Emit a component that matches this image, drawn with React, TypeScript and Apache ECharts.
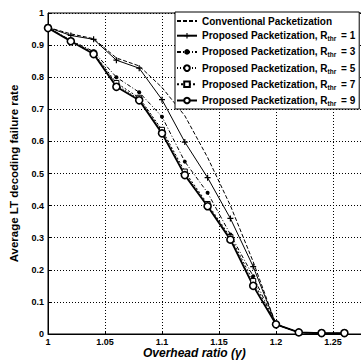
import React, { useEffect, useRef } from "react";
import * as echarts from "echarts";

const xValues = [1, 1.02, 1.04, 1.06, 1.08, 1.1, 1.12, 1.14, 1.16, 1.18, 1.2, 1.22, 1.24, 1.26];
const conventional = [0.955, 0.935, 0.92, 0.86, 0.835, 0.768, 0.68, 0.55, 0.4, 0.225, 0.03, 0.005, 0.002, 0.001];
const rthr1 = [0.955, 0.93, 0.918, 0.853, 0.828, 0.73, 0.598, 0.487, 0.36, 0.21, 0.03, 0.005, 0.002, 0.002];
const rthr3 = [0.955, 0.915, 0.88, 0.8, 0.753, 0.677, 0.537, 0.44, 0.31, 0.18, 0.03, 0.005, 0.002, 0.002];
const rthr5 = [0.955, 0.913, 0.876, 0.776, 0.732, 0.632, 0.5, 0.4, 0.296, 0.155, 0.03, 0.005, 0.002, 0.002];
const rthr7 = [0.955, 0.913, 0.876, 0.782, 0.736, 0.636, 0.506, 0.405, 0.302, 0.165, 0.03, 0.005, 0.002, 0.002];
const rthr9 = [0.953, 0.912, 0.872, 0.77, 0.728, 0.625, 0.495, 0.398, 0.294, 0.15, 0.03, 0.005, 0.003, 0.003];

const seriesNames = [
  "Conventional Packetization",
  "Proposed Packetization, R_1",
  "Proposed Packetization, R_3",
  "Proposed Packetization, R_5",
  "Proposed Packetization, R_7",
  "Proposed Packetization, R_9",
];

const yTicks = [0, 0.1, 0.2, 0.3, 0.4, 0.5, 0.6, 0.7, 0.8, 0.9, 1];

const FONT = "'Liberation Sans', Arial, sans-serif";

export default function App() {
  const ref = useRef<HTMLDivElement>(null);
  useEffect(() => {
    if (!ref.current) return;
    const chart = echarts.init(ref.current, null, { renderer: "svg" });
    const pair = (ys: number[]) => xValues.map((x, i) => [x, ys[i]]);
    const plus = "path://M4,0h2v10h-2z M0,4h10v2h-10z";
    const common = { type: "line", silent: true, z: 3 };
    const option: any = {
      animation: false,
      backgroundColor: "#fff",
      grid: {
        left: 45,
        top: 13,
        bottom: 26,
        right: 10,
        show: true,
        borderColor: "#000",
        borderWidth: 1,
      },
      xAxis: {
        type: "value",
        min: 1,
        max: 1.3,
        interval: 0.05,
        axisLine: { lineStyle: { color: "#000", width: 1 } },
        axisTick: { inside: true, length: 3, lineStyle: { color: "#000" } },
        splitLine: { show: true, lineStyle: { color: "#000", type: [1, 2], width: 1 } },
        axisLabel: {
          color: "#000",
          fontFamily: FONT,
          fontWeight: "bold",
          fontSize: 9,
          margin: 3,
          showMaxLabel: false,
        },
      },
      yAxis: {
        type: "value",
        min: 0,
        max: 1,
        interval: 0.1,
        axisLine: { show: true, lineStyle: { color: "#000", width: 1 } },
        axisTick: { show: true, inside: true, length: 3, lineStyle: { color: "#000" } },
        splitLine: { show: true, lineStyle: { color: "#000", type: [1, 2], width: 1 } },
        axisLabel: {
          color: "#000",
          fontFamily: FONT,
          fontWeight: "bold",
          fontSize: 9,
          margin: 4,
          formatter: (v: number) => {
            const t = yTicks.find((y) => Math.abs(y - v) < 1e-6);
            return t === undefined ? "" : String(t);
          },
        },
        name: "Average LT decoding failure rate",
        nameLocation: "middle",
        nameGap: 28,
        nameTextStyle: { color: "#000", fontFamily: FONT, fontWeight: "bold", fontSize: 11.5 },
      },
      legend: {
        left: 175,
        top: 12,
        orient: "vertical",
        backgroundColor: "#fff",
        borderColor: "#000",
        borderWidth: 1,
        borderRadius: 0,
        padding: [4, 4, 2, 1],
        itemWidth: 20,
        itemHeight: 7,
        itemGap: 3.2,
        selectedMode: false,
        data: seriesNames.map((n, i) => (i === 0 ? { name: n, itemStyle: { opacity: 0 } } : { name: n })),
        formatter: (name: string) => {
          if (name.indexOf("R_") >= 0) {
            const n = name.split("R_")[1];
            return "{a|Proposed Packetization, R}{s|thr}{a| = " + n + "}";
          }
          return "{a|" + name + "}";
        },
        textStyle: {
          color: "#000",
          fontFamily: FONT,
          fontWeight: "bold",
          fontSize: 10,
          rich: {
            a: { fontFamily: FONT, fontWeight: "bold", fontSize: 10, lineHeight: 12, color: "#000" },
            s: {
              fontFamily: FONT,
              fontWeight: "bold",
              fontSize: 6.5,
              lineHeight: 12,
              color: "#000",
              padding: [6, 2, 0, 0],
            },
          },
        },
      },
      graphic: [
        {
          type: "text",
          left: 143,
          top: 347,
          style: {
            text: "Overhead ratio (\u03b3)",
            fill: "#000",
            font: "italic bold 12px " + FONT,
          },
          z: 10,
        },
      ],
      series: [
        {
          ...common,
          name: seriesNames[0],
          data: pair(conventional),
          showSymbol: false,
          symbol: "none",
          lineStyle: { color: "#000", width: 1, type: [4, 2] },
          itemStyle: { color: "#000" },
        },
        {
          ...common,
          name: seriesNames[1],
          data: pair(rthr1),
          symbol: plus,
          symbolSize: 6,
          lineStyle: { color: "#000", width: 1, type: "solid" },
          itemStyle: { color: "#000" },
        },
        {
          ...common,
          name: seriesNames[2],
          data: pair(rthr3),
          symbol: "circle",
          symbolSize: 4,
          lineStyle: { color: "#000", width: 1, type: [4, 2, 1, 2] },
          itemStyle: { color: "#000" },
        },
        {
          ...common,
          name: seriesNames[3],
          data: pair(rthr5),
          symbol: "circle",
          symbolSize: 6,
          lineStyle: { color: "#000", width: 1, type: [1, 2] },
          itemStyle: { color: "#fff", borderColor: "#000", borderWidth: 1 },
        },
        {
          ...common,
          name: seriesNames[4],
          data: pair(rthr7),
          symbol: "rect",
          symbolSize: 5,
          lineStyle: { color: "#000", width: 1, type: [2, 2] },
          itemStyle: { color: "#fff", borderColor: "#000", borderWidth: 1 },
        },
        {
          ...common,
          name: seriesNames[5],
          data: pair(rthr9),
          symbol: "circle",
          symbolSize: 7,
          lineStyle: { color: "#000", width: 1.8, type: "solid" },
          itemStyle: { color: "#fff", borderColor: "#000", borderWidth: 1.6 },
        },
      ],
    };
    chart.setOption(option);
    return () => chart.dispose();
  }, []);
  return (
    <div style={{ position: "absolute", left: 0, top: 0, width: 361, height: 360, overflow: "hidden" }}>
      <div ref={ref} style={{ position: "absolute", left: 0, top: 0, width: 400, height: 360 }} />
    </div>
  );
}
